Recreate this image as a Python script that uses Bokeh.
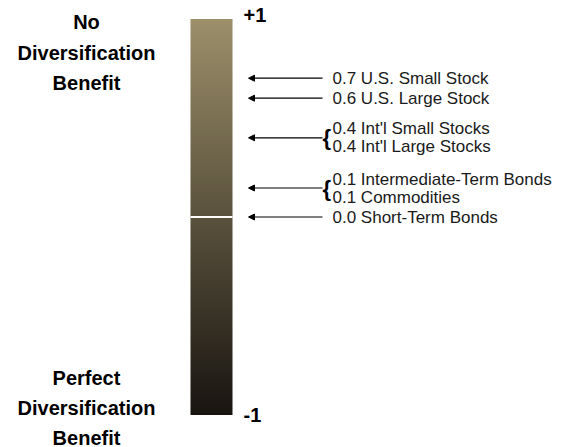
import numpy as np
from bokeh.plotting import figure
from bokeh.models import Range1d, Arrow, NormalHead
from bokeh.core.properties import value
from bokeh.embed import file_html
from bokeh.resources import INLINE

# ---------------- data ----------------
correlations = [0.7, 0.6, 0.4, 0.4, 0.1, 0.1, 0.0]
assets = ["U.S. Small Stock", "U.S. Large Stock", "Int'l Small Stocks",
          "Int'l Large Stocks", "Intermediate-Term Bonds", "Commodities",
          "Short-Term Bonds"]
scale_max = 1
scale_min = -1
scale_labels = ["+1", "-1"]
top_caption = ["No", "Diversification", "Benefit"]
bottom_caption = ["Perfect", "Diversification", "Benefit"]

# ---------------- layout ----------------
W, H = 565, 447
PX = 198.0          # pixels per correlation unit
ZERO = 216.5        # pixel row of correlation 0
def dv(px):
    return px / PX
def fy(py):
    return (ZERO - py) / PX

FONT = "Liberation Sans"

p = figure(width=W, height=H, output_backend="svg", toolbar_location=None,
           x_range=Range1d(0, W), y_range=Range1d(fy(H), fy(0)),
           min_border=0, border_fill_color="white", background_fill_color="white")
p.axis.visible = False
p.grid.visible = False
p.outline_line_color = None

# gradient bar (vertical colour ramp as a one-column image)
bar_x0, bar_x1 = 190, 232
N = 240
top_rgb = np.array([156, 143, 106])
bot_rgb = np.array([24, 20, 16])
img = np.empty((N, 1), dtype=np.uint32)
view = img.view(dtype=np.uint8).reshape((N, 1, 4))
for i in range(N):
    t = (i + 0.5) / N          # row 0 = bottom
    c = (bot_rgb * (1 - t) + top_rgb * t).round().astype(np.uint8)
    view[i, 0, 0:3] = c
    view[i, 0, 3] = 255
p.image_rgba(image=[img], x=bar_x0, y=scale_min, dw=bar_x1 - bar_x0,
             dh=scale_max - scale_min)
p.segment(x0=[bar_x0], x1=[bar_x1], y0=[0], y1=[0], line_color="white", line_width=2)

# scale end labels
p.text(x=[243, 243], y=[scale_max + dv(4), scale_min - dv(0)], text=scale_labels,
       text_font=value(FONT), text_font_style="bold", text_font_size="20px",
       text_baseline="middle", text_align="left", text_color="black")

# captions
cap_x = 86
p.text(x=[cap_x] * 3, y=[fy(21), fy(52), fy(82)], text=top_caption,
       text_font=value(FONT), text_font_style="bold", text_font_size="20px",
       text_baseline="middle", text_align="center", text_color="black")
p.text(x=[cap_x] * 3, y=[fy(377), fy(407), fy(437)], text=bottom_caption,
       text_font=value(FONT), text_font_style="bold", text_font_size="20px",
       text_baseline="middle", text_align="center", text_color="black")

# group labels by correlation, avoid collisions
groups = []
for v, a in zip(correlations, assets):
    if groups and groups[-1][0] == v:
        groups[-1][1].append(a)
    else:
        groups.append((v, [a]))

LS = 18.0   # line spacing px
GAP = 20.0
prev_top = None
placed = []
for v, names in reversed(groups):
    n = len(names)
    center = v * PX
    half = (n - 1) / 2 * LS
    if prev_top is not None and center - half < prev_top + GAP:
        center = prev_top + GAP + half
    prev_top = center + half
    placed.append((v, names, center))

head_x, tail_x, text_x = 248, 322, 332
lx, ly, lt = [], [], []
for v, names, center in placed:
    cy = center / PX
    p.add_layout(Arrow(end=NormalHead(size=6, fill_color="black", line_color="black"),
                       x_start=tail_x, y_start=cy, x_end=head_x, y_end=cy,
                       line_color="black", line_width=1.2))
    n = len(names)
    for k, name in enumerate(names):
        off = ((n - 1) / 2 - k) * LS
        lx.append(text_x)
        ly.append(cy + dv(off))
        lt.append(f"{v:.1f} {name}")
    if n > 1:
        p.text(x=[tail_x], y=[cy], text=["{"], text_font=value(FONT),
               text_font_style="bold", text_font_size="22px",
               text_baseline="middle", text_align="left", text_color="black")

p.text(x=lx, y=ly, text=lt, text_font=value(FONT), text_font_size="17px",
       text_baseline="middle", text_align="left", text_color="#1a1a1a")

open("out.html", "w").write(file_html(p, INLINE))
